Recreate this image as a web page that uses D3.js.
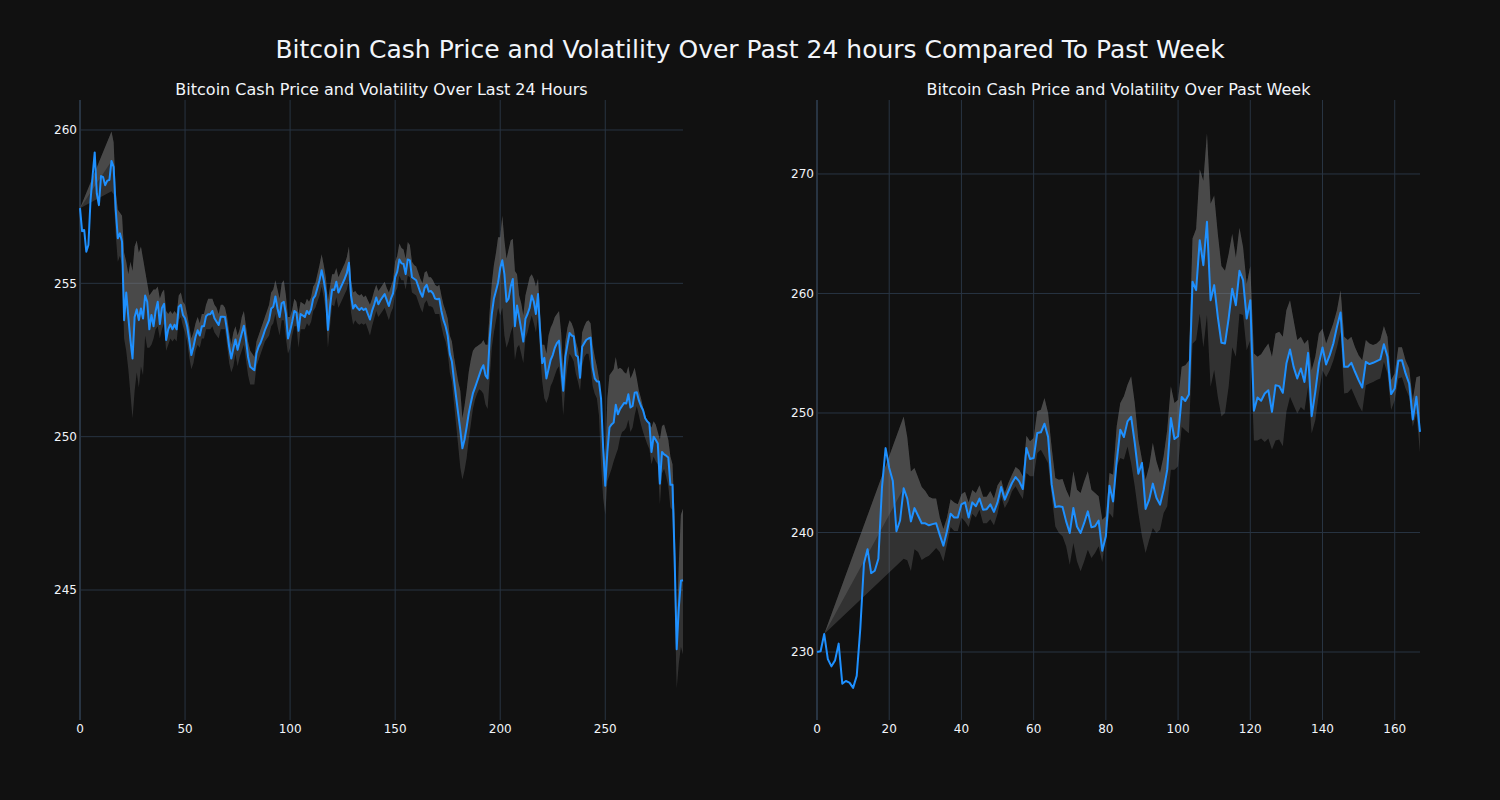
<!DOCTYPE html>
<html><head><meta charset="utf-8">
<script src="https://cdn.jsdelivr.net/npm/d3@7"></script>
<style>body{margin:0;background:#111111;} svg{display:block}</style>
</head><body>
<svg id="c" width="1500" height="800"></svg>
<script>
const mainTitle = "Bitcoin Cash Price and Volatility Over Past 24 hours Compared To Past Week";
const subTitles = ["Bitcoin Cash Price and Volatility Over Last 24 Hours", "Bitcoin Cash Price and Volatility Over Past Week"];

const price24 = [257.45,256.7,256.74,256.03,256.25,257.7,258.5,259.27,257.93,257.55,
258.5,258.46,258.2,258.35,258.37,258.99,258.8,257.4,256.47,256.63,
256.36,253.8,254.7,253.9,253.15,252.55,253.9,254.15,253.8,254.18,
253.85,254.6,254.4,253.5,253.97,253.6,254.1,254.4,253.67,254.2,
254.33,253.15,253.5,253.66,253.5,253.65,253.5,254.24,254.3,253.97,
253.86,253.6,253.15,252.66,252.93,253.26,253.47,253.3,253.6,253.6,
253.93,253.99,253.99,254.1,253.86,253.75,253.64,253.91,253.91,253.9,
253.47,252.93,252.55,252.88,253.17,252.83,253.1,253.37,253.62,253.15,
252.6,252.28,252.22,252.17,252.72,252.93,253.07,253.26,253.47,253.64,
253.8,254.18,254.24,254.57,254.18,253.9,254.35,254.4,254.0,253.2,
253.45,253.75,254.1,254.05,253.45,254.0,253.95,253.9,254.1,254.0,
254.16,254.5,254.6,254.85,255.1,255.43,255.1,254.67,253.48,254.24,
254.8,254.78,255.05,254.7,254.85,255.0,255.15,255.33,255.67,254.6,
254.18,254.3,254.2,254.13,254.2,254.13,254.18,254.0,253.82,254.1,
254.3,254.54,254.32,254.45,254.55,254.65,254.45,254.26,254.5,254.67,
255.2,255.38,255.78,255.65,255.63,255.3,255.78,255.75,255.2,255.15,
255.1,254.9,254.7,254.56,254.85,254.95,254.73,254.75,254.67,254.5,
254.48,254.5,254.1,253.8,253.6,253.3,252.7,252.45,251.85,251.3,
250.75,250.22,249.62,249.9,250.3,250.75,251.1,251.41,251.6,251.8,
252.0,252.2,252.33,252.0,251.9,253.2,254.0,254.5,254.76,255.03,
255.5,255.75,255.3,254.4,254.5,254.9,255.14,253.6,254.28,253.9,
253.5,253.1,253.84,254.0,254.2,254.6,254.4,254.0,254.65,253.4,
252.4,252.57,251.9,252.2,252.5,252.66,252.9,253.05,253.13,252.3,
251.5,252.6,253.0,253.38,253.3,253.27,252.66,252.6,251.92,252.93,
253.05,253.16,253.2,253.23,252.26,251.9,251.8,251.8,251.24,249.62,
248.4,249.5,250.3,250.4,250.46,251.04,250.73,250.9,251.0,251.1,
251.08,251.38,250.95,251.0,251.43,251.45,251.18,251.0,250.86,250.6,
250.5,250.43,249.5,250.0,249.9,249.78,248.47,249.5,249.42,249.38,
249.32,248.43,248.43,246.1,243.07,244.42,245.3,245.32];

const upper24 = [257.45,null,null,null,null,null,null,null,null,null,
null,null,null,null,null,259.95,259.6,258.0,257.4,257.3,
257.2,256.0,255.7,255.3,255.7,255.4,256.2,256.4,256.0,256.2,
255.8,255.4,255.0,254.6,254.7,254.8,254.8,254.9,254.5,254.7,
254.8,254.1,254.0,254.1,254.0,254.1,254.0,254.6,254.7,254.4,
254.3,254.0,253.6,253.2,253.4,253.7,253.9,253.7,254.0,254.0,
254.3,254.5,254.5,254.5,254.3,254.2,254.0,254.3,254.3,254.2,
253.9,253.4,253.0,253.4,253.6,253.3,253.5,253.9,254.1,253.6,
253.1,252.8,252.7,252.6,253.1,253.3,253.5,253.7,253.9,254.1,
254.3,254.7,254.8,255.1,254.8,254.5,255.0,255.1,254.6,253.9,
253.9,254.15,254.5,254.4,254.0,254.4,254.35,254.3,254.5,254.4,
254.55,254.9,255.0,255.3,255.6,255.95,255.6,255.2,254.45,254.9,
255.3,255.3,255.5,255.2,255.35,255.5,255.65,255.85,256.2,255.1,
254.7,254.75,254.65,254.6,254.65,254.55,254.6,254.45,254.3,254.5,
254.75,254.95,254.75,254.85,254.95,255.05,254.85,254.7,254.9,255.1,
255.7,255.9,256.3,256.15,256.1,255.8,256.35,256.25,255.7,255.6,
255.55,255.35,255.15,255.0,255.35,255.4,255.2,255.2,255.1,254.95,
254.9,254.95,254.6,254.3,254.1,253.85,253.3,253.1,252.6,252.2,
251.8,251.5,250.6,251.0,251.5,252.1,252.5,252.8,252.9,252.95,
253.0,253.05,253.15,253.0,253.0,254.1,255.0,255.6,256.0,256.5,
256.5,257.2,256.4,255.8,256.1,256.4,256.45,255.4,255.3,254.6,
254.35,253.95,254.6,254.9,255.2,255.3,255.15,254.9,255.15,253.95,
253.0,253.0,252.7,253.3,253.55,253.7,253.9,254.0,254.1,253.4,
252.2,253.1,253.55,253.8,253.7,253.5,253.1,252.85,252.3,253.4,
253.6,253.75,253.8,253.7,253.0,252.6,252.3,251.9,250.7,249.9,
249.2,251.25,252.0,252.1,252.2,252.6,252.2,252.25,252.2,252.1,
252.05,252.3,251.9,252.05,252.25,251.9,251.5,251.25,250.95,250.7,
250.5,250.4,250.3,250.5,250.4,250.15,249.9,250.35,250.4,250.15,
249.9,249.35,249.1,247.45,243.65,245.85,247.45,247.65];

const lower24 = [257.45,null,null,null,null,null,null,null,null,null,
null,null,null,null,null,258.0,257.9,256.6,255.7,255.9,
255.6,253.2,252.8,252.2,251.4,250.6,251.5,252.1,251.6,252.3,
252.0,253.3,252.9,252.9,253.0,253.2,253.5,253.6,253.2,253.5,
253.7,252.8,253.0,253.2,253.1,253.2,253.1,253.8,253.9,253.6,
253.4,253.1,252.6,252.2,252.4,252.8,253.0,252.9,253.2,253.2,
253.5,253.5,253.5,253.6,253.4,253.3,253.2,253.5,253.5,253.5,
253.0,252.4,252.1,252.3,252.7,252.3,252.6,252.8,253.0,252.5,
252.0,251.7,251.7,251.7,252.3,252.5,252.7,252.9,253.1,253.2,
253.3,253.6,253.7,254.0,253.6,253.3,253.8,253.8,253.2,252.7,
252.9,253.3,253.6,253.6,252.9,253.5,253.5,253.5,253.7,253.6,
253.75,254.1,254.2,254.4,254.6,254.9,254.55,254.1,252.9,253.6,
254.3,254.25,254.55,254.2,254.35,254.5,254.65,254.8,255.1,254.05,
253.65,253.8,253.7,253.65,253.7,253.65,253.7,253.5,253.3,253.6,
253.85,254.1,253.9,254.0,254.1,254.2,254.0,253.8,254.05,254.2,
254.7,254.85,255.25,255.1,255.1,254.8,255.25,255.2,254.7,254.65,
254.6,254.4,254.2,254.05,254.35,254.45,254.25,254.25,254.2,254.0,
254.0,254.0,253.6,253.3,253.1,252.75,252.1,251.8,251.1,250.4,
249.7,249.0,248.6,248.9,249.3,249.9,250.4,250.9,251.2,251.4,
251.55,251.5,251.4,251.05,250.9,251.9,252.9,253.4,253.8,254.2,
253.95,254.2,253.3,252.9,253.1,253.4,253.6,252.5,252.9,253.0,
252.7,252.4,253.2,253.4,253.7,253.95,253.7,253.4,253.95,252.7,
251.8,251.25,251.1,251.3,251.65,251.8,252.0,252.2,252.3,251.65,
250.7,251.65,252.3,252.7,252.6,252.45,252.05,251.8,251.5,252.3,
252.6,252.7,252.7,252.3,251.65,251.4,251.25,250.7,249.1,248.0,
247.45,248.55,248.75,248.95,249.2,249.4,249.6,249.95,250.15,250.2,
250.3,250.55,250.15,250.3,250.7,251.0,250.7,250.4,250.15,249.95,
249.75,249.6,249.1,249.35,249.2,249.1,247.8,248.8,248.95,248.7,
248.4,247.7,247.6,244.75,241.8,242.6,243.15,242.9];

const priceWeek = [230.0,230.06,231.5,229.4,228.8,229.3,230.7,227.35,227.57,227.44,
227.0,228.0,232.0,237.4,238.6,236.6,236.8,237.8,243.8,247.06,
245.4,244.3,240.1,241.0,243.7,242.84,240.93,242.04,241.4,240.77,
240.77,240.6,240.7,240.77,239.8,238.9,240.1,241.57,241.25,241.25,
242.36,242.52,241.25,242.52,242.2,242.84,241.9,241.95,242.36,241.72,
242.52,243.8,242.75,243.45,244.14,244.64,244.28,243.64,247.07,246.15,
246.23,248.33,248.38,249.1,248.0,244.0,242.13,242.19,242.13,240.93,
239.96,242.05,240.5,239.96,240.8,241.77,240.43,240.52,241.0,238.48,
239.68,243.92,242.6,245.96,248.6,247.99,249.3,249.67,247.5,244.92,
245.82,241.97,242.75,244.09,242.9,242.33,243.58,245.26,249.58,247.82,
248.05,251.34,251.0,251.55,260.98,260.28,264.46,262.37,266.0,259.44,
260.7,258.05,255.87,255.82,257.9,260.4,259.02,261.9,261.12,257.9,
259.44,250.18,251.3,251.02,251.63,251.9,250.1,252.33,252.25,251.69,
254.14,255.31,253.86,252.89,253.72,252.6,255.03,249.73,251.77,254.14,
255.48,254.06,254.84,255.82,257.21,258.41,253.86,253.86,254.2,253.45,
252.75,252.13,254.28,254.09,254.2,254.34,254.48,255.76,254.7,251.58,
252.05,254.37,254.42,253.31,252.47,249.46,251.35,248.42];

const upperWeek = [null,null,231.5,null,null,null,null,null,null,null,
null,null,null,null,null,null,null,null,null,null,
null,null,null,null,249.7,247.96,245.1,245.4,244.6,243.8,
243.48,243.0,242.84,242.84,241.25,240.3,241.25,242.78,242.52,242.36,
243.2,243.4,242.5,243.55,243.3,243.96,243.0,243.0,243.48,242.84,
243.96,244.42,243.3,244.14,244.84,245.48,245.26,244.7,248.1,247.63,
247.9,250.14,250.28,251.26,250.0,247.07,244.56,244.42,244.48,243.58,
242.9,245.12,243.58,243.3,244.28,245.12,243.58,243.3,243.03,241.07,
241.35,244.98,244.84,248.88,250.84,251.4,252.37,253.07,250.84,247.77,
246.1,244.42,245.54,247.5,245.96,244.98,246.37,248.6,252.23,250.84,
251.1,253.86,254.0,254.4,264.6,265.4,270.4,269.44,273.4,267.5,
268.2,265.0,262.3,261.9,263.3,265.0,263.0,265.5,263.86,260.8,
262.3,254.98,254.7,254.92,255.4,255.82,254.7,256.65,256.8,256.37,
258.6,259.44,257.77,256.1,256.37,255.8,256.15,253.58,254.7,256.65,
257.07,255.82,256.65,257.5,258.6,260.28,256.37,256.1,256.37,255.5,
254.84,254.42,256.1,255.82,255.68,255.82,256.1,257.27,256.37,252.75,
253.3,255.5,255.5,254.42,253.72,251.07,253.0,253.1];

const lowerWeek = [null,null,231.5,null,null,null,null,null,null,null,
null,null,null,null,null,null,null,null,null,null,
null,null,null,null,237.8,237.67,236.77,238.6,238.37,237.7,
237.9,238.05,238.37,238.7,238.37,237.57,239.0,240.45,240.13,240.13,
241.25,240.93,240.45,241.57,241.25,241.9,240.77,240.77,241.1,240.6,
241.57,243.03,242.05,242.6,243.45,243.86,243.3,242.8,244.98,244.7,
244.7,246.65,246.93,246.37,245.8,243.03,240.5,239.96,239.68,238.84,
237.3,239.12,237.6,236.75,237.6,238.56,237.87,238.28,238.84,237.5,
239.68,241.63,241.21,245.54,246.23,246.1,247.2,245.8,243.86,241.63,
239.68,238.28,239.4,240.38,239.96,240.24,241.63,242.19,245.26,245.26,
245.54,248.84,248.56,248.3,255.8,256.1,258.3,255.5,258.2,252.2,
253.6,251.35,249.7,250.0,252.2,255.5,254.7,258.3,258.2,255.26,
256.1,247.7,247.7,247.87,247.58,247.87,246.95,247.7,247.78,247.22,
250.1,251.35,250.65,249.96,250.5,250.2,252.2,248.3,249.4,251.63,
253.58,253.0,253.58,254.4,255.5,256.8,251.63,251.7,252.05,251.35,
250.65,250.1,252.33,252.47,252.6,252.75,252.89,254.28,253.3,250.24,
251.07,252.89,253.0,252.05,251.35,248.84,249.96,246.7];

const xTicks24 = [0, 50, 100, 150, 200, 250];
const yTicks24 = [245, 250, 255, 260];
const xTicksWeek = [0, 20, 40, 60, 80, 100, 120, 140, 160];
const yTicksWeek = [230, 240, 250, 260, 270];

const svg = d3.select("#c");
const FONT = "'DejaVu Sans', Verdana, sans-serif";
const TXT = "#f2f5fa";
const GRID = "#283442";
const TOP = 100, BOTTOM = 720;

svg.append("rect").attr("width", 1500).attr("height", 800).attr("fill", "#111111");

svg.append("text").attr("x", 750).attr("y", 58).attr("text-anchor", "middle")
  .attr("font-family", FONT).attr("font-size", 25).attr("fill", TXT).text(mainTitle);

function panel(cfg) {
  const n = cfg.price.length;
  const x = d3.scaleLinear().domain([0, n - 1]).range([cfg.x0, cfg.x1]);
  const y = d3.scaleLinear().domain(cfg.yDomain).range([BOTTOM, TOP]);
  const g = svg.append("g");

  // grid
  g.selectAll(".hg").data(cfg.yTicks).join("line")
    .attr("x1", cfg.x0).attr("x2", cfg.x1)
    .attr("y1", d => y(d)).attr("y2", d => y(d))
    .attr("stroke", GRID).attr("stroke-width", 1);
  g.selectAll(".vg").data(cfg.xTicks.filter(d => d !== 0)).join("line")
    .attr("x1", d => x(d)).attr("x2", d => x(d))
    .attr("y1", TOP).attr("y2", BOTTOM)
    .attr("stroke", GRID).attr("stroke-width", 1);
  // zero line
  g.append("line").attr("x1", x(0)).attr("x2", x(0)).attr("y1", TOP).attr("y2", BOTTOM)
    .attr("stroke", GRID).attr("stroke-width", 2);

  // band data (rows with defined volatility)
  const rows = d3.range(n).filter(i => cfg.upper[i] != null)
    .map(i => ({ i, p: cfg.price[i], u: cfg.upper[i], l: cfg.lower[i] }));
  const fill = "rgba(128,128,128,0.3)";
  const a1 = d3.area().x(d => x(d.i)).y0(d => y(d.p)).y1(d => y(d.u));
  const a2 = d3.area().x(d => x(d.i)).y0(d => y(d.l)).y1(d => y(d.u));
  g.append("path").datum(rows).attr("d", a1).attr("fill", fill);
  g.append("path").datum(rows).attr("d", a2).attr("fill", fill);

  // price line
  const line = d3.line().x((d, i) => x(i)).y(d => y(d));
  g.append("path").datum(cfg.price).attr("d", line)
    .attr("fill", "none").attr("stroke", "#1E90FF").attr("stroke-width", 2)
    .attr("stroke-linejoin", "round");

  // tick labels
  g.selectAll(".yl").data(cfg.yTicks).join("text")
    .attr("x", cfg.x0 - 3).attr("y", d => y(d)).attr("dy", "0.36em")
    .attr("text-anchor", "end").attr("font-family", FONT).attr("font-size", 12)
    .attr("fill", TXT).text(d => d);
  g.selectAll(".xl").data(cfg.xTicks).join("text")
    .attr("x", d => x(d)).attr("y", 733)
    .attr("text-anchor", "middle").attr("font-family", FONT).attr("font-size", 12)
    .attr("fill", TXT).text(d => d);

  // subplot title
  g.append("text").attr("x", (cfg.x0 + cfg.x1) / 2).attr("y", 95)
    .attr("text-anchor", "middle").attr("font-family", FONT).attr("font-size", 16)
    .attr("fill", TXT).text(cfg.title);
}

panel({ x0: 80, x1: 683, yDomain: [240.761, 260.978], price: price24, upper: upper24, lower: lower24,
  xTicks: xTicks24, yTicks: yTicks24, title: subTitles[0] });
panel({ x0: 817, x1: 1420, yDomain: [224.31, 276.19], price: priceWeek, upper: upperWeek, lower: lowerWeek,
  xTicks: xTicksWeek, yTicks: yTicksWeek, title: subTitles[1] });
</script>
</body></html>
